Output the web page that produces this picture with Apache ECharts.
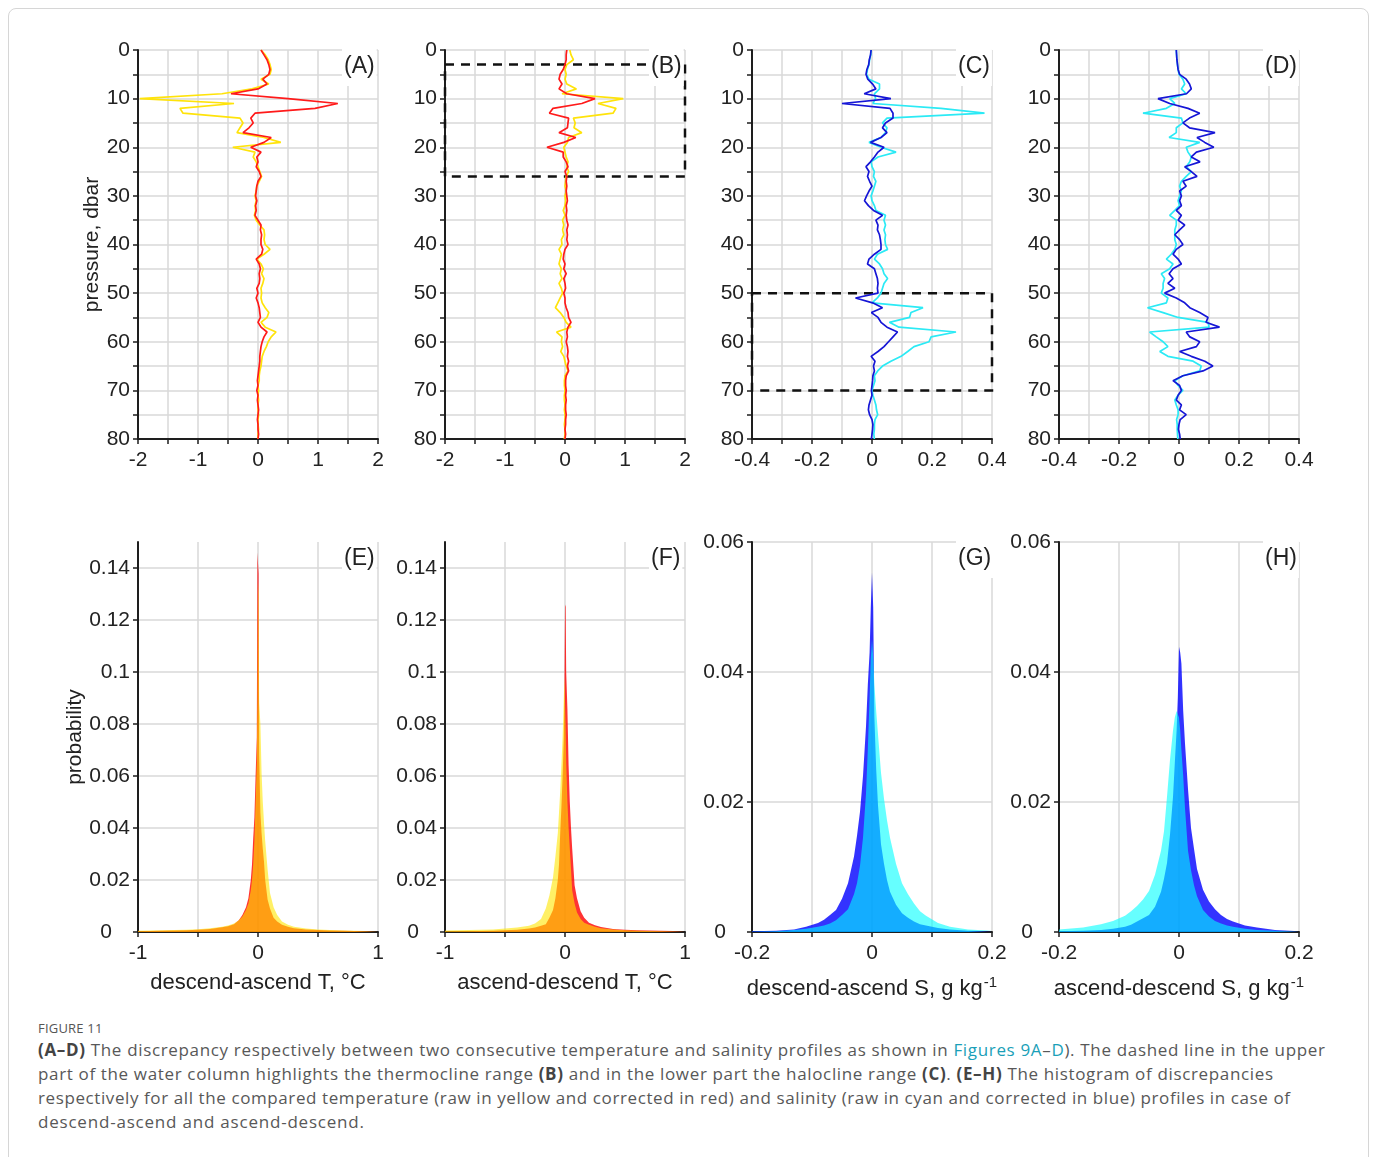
<!DOCTYPE html>
<html><head><meta charset="utf-8">
<script src="https://cdn.jsdelivr.net/npm/echarts@6/dist/echarts.min.js"></script>
<style>
html,body{margin:0;padding:0;background:#fff;width:1375px;height:1157px;overflow:hidden;}
#frame{position:absolute;left:8px;top:8px;width:1361px;height:1190px;border:1px solid #d6d6d6;border-radius:8px;box-sizing:border-box;}
#chart{position:absolute;left:0;top:0;width:1375px;height:1012px;}
#cap{position:absolute;left:38px;top:1018px;font-family:"Open Sans","Liberation Sans",sans-serif;color:#585858;}
#cap .fig{font-size:13px;line-height:20px;letter-spacing:0.2px;color:#555;}
#cap .row{height:24px;line-height:24px;}
#cap .ln{font-size:17px;white-space:nowrap;display:inline-block;}
#cap b{color:#444;font-weight:700;}
#cap .lk{color:#1a9fb8;}
</style></head>
<body>
<div id="frame"></div>
<div id="chart"></div>
<div id="cap">
<div class="fig">FIGURE 11</div>
<div class="row"><span class="ln" data-w="1287"><b>(A–D)</b> The discrepancy respectively between two consecutive temperature and salinity profiles as shown in <span class="lk">Figures 9A</span>–<span class="lk">D</span>). The dashed line in the upper</span></div>
<div class="row"><span class="ln" data-w="1235">part of the water column highlights the thermocline range <b>(B)</b> and in the lower part the halocline range <b>(C)</b>. <b>(E–H)</b> The histogram of discrepancies</span></div>
<div class="row"><span class="ln" data-w="1252">respectively for all the compared temperature (raw in yellow and corrected in red) and salinity (raw in cyan and corrected in blue) profiles in case of</span></div>
<div class="row"><span class="ln" data-w="326">descend-ascend and ascend-descend.</span></div>
</div>
<script>
// ---------- DATA ----------
const pressure = [0,1,2,3,4,5,6,7,8,9,10,11,12,13,14,15,16,17,18,19,20,21,22,23,24,25,26,27,28,29,30,31,32,33,34,35,36,37,38,39,40,41,42,43,44,45,46,47,48,49,50,51,52,53,54,55,56,57,58,59,60,61,62,63,64,65,66,67,68,69,70,71,72,73,74,75,76,77,78,79,80];

// (A) descend-ascend T : raw (yellow), corrected (red)
const tA_raw = [0.05,0.12,0.17,0.2,0.22,0.2,0.05,0.18,-0.1,-0.6,
 -1.97,-0.4,-1.3,-1.25,-0.3,-0.25,-0.3,-0.35,0.1,0.38,
 -0.42,-0.05,-0.08,-0.03,0.0,0.03,0.06,0.02,-0.02,-0.03,
 -0.05,-0.03,-0.05,-0.04,-0.06,-0.03,0.03,0.1,0.11,0.1,
 0.12,0.2,0.1,-0.02,0.05,0.09,0.06,0.1,0.08,0.05,
 0.06,0.05,0.07,0.12,0.18,0.15,0.05,0.12,0.3,0.22,
 0.17,0.14,0.1,0.07,0.06,0.05,0.03,0.02,0.02,0.0,
 0.01,0.0,0.01,0.0,0.0,0.01,0.0,0.0,0.01,0.0,0.0];
const tA_cor = [0.05,0.1,0.15,0.18,0.2,0.18,0.08,0.15,0.0,-0.45,
 0.5,1.33,0.95,-0.05,-0.12,-0.08,-0.15,-0.25,0.22,0.1,
 -0.12,0.05,-0.02,0.0,-0.03,0.02,0.05,0.0,-0.02,-0.03,
 -0.04,-0.02,-0.04,-0.03,-0.05,0.0,0.05,0.04,0.06,0.05,
 0.05,0.08,0.06,-0.03,0.02,0.04,0.02,0.03,0.02,-0.02,
 0.0,-0.03,0.0,0.02,0.03,0.04,0.0,0.05,0.15,0.1,
 0.07,0.05,0.04,0.03,0.03,0.02,0.01,0.0,-0.01,0.0,
 -0.02,0.0,-0.01,0.0,0.01,0.0,-0.01,0.0,0.0,0.01,0.0];

// (B) ascend-descend T
const tB_raw = [0.08,0.1,0.14,0.03,0.0,0.02,0.0,0.03,0.19,-0.05,
 0.97,0.55,0.85,0.8,0.14,0.17,0.15,0.28,0.06,0.04,
 -0.02,0.0,0.02,0.05,0.03,0.06,0.02,0.01,0.0,0.02,
 0.0,0.01,0.0,-0.03,0.0,-0.04,-0.02,-0.04,-0.02,-0.06,
 -0.05,-0.1,-0.06,-0.08,-0.1,-0.06,-0.08,-0.05,-0.1,-0.06,
 -0.04,-0.08,-0.12,-0.16,-0.08,-0.02,0.02,0.1,-0.14,-0.05,
 -0.06,-0.04,-0.07,-0.02,0.0,0.02,0.05,0.0,-0.01,-0.01,
 0.0,-0.01,-0.01,0.0,-0.01,0.0,0.0,-0.01,0.0,0.0,-0.01];
const tB_cor = [0.03,0.02,0.02,0.0,-0.03,-0.08,-0.1,-0.05,-0.1,0.03,
 0.5,0.28,-0.2,-0.26,0.06,0.05,0.04,-0.1,0.18,-0.02,
 -0.3,-0.03,-0.03,0.02,0.05,0.0,0.03,0.02,0.03,0.02,
 0.03,0.04,0.02,0.03,0.02,0.03,0.05,0.03,0.04,0.03,
 0.05,0.0,-0.02,-0.03,0.0,-0.02,0.02,-0.02,0.0,0.01,
 -0.02,0.0,0.0,0.02,0.05,0.06,0.1,0.05,0.03,0.04,
 0.02,0.04,0.05,0.04,0.06,0.04,0.06,0.02,0.01,0.01,
 0.02,0.01,0.02,0.01,0.01,0.02,0.01,0.01,0.0,0.01,0.0];

// (C) descend-ascend S : raw (cyan), corrected (blue)
const sC_raw = [-0.003,-0.004,-0.008,-0.01,-0.015,-0.018,-0.01,0.025,0.025,0.008,
 0.012,0.003,0.23,0.375,0.05,0.035,0.05,0.045,0.03,-0.01,
 0.03,0.08,0.02,-0.003,0.0,0.008,0.005,0.013,0.008,0.003,
 -0.003,0.0,0.008,0.013,0.045,0.04,0.045,0.04,0.045,0.043,
 0.045,0.052,0.018,0.008,0.025,0.035,0.04,0.052,0.04,0.035,
 0.03,0.018,0.0,0.17,0.13,0.125,0.058,0.09,0.28,0.197,
 0.19,0.14,0.119,0.097,0.063,0.035,0.019,0.008,0.01,0.005,
 0.0,0.003,0.008,0.013,0.015,0.019,0.01,0.008,0.008,0.006,0.008];
const sC_cor = [-0.003,-0.005,-0.009,-0.011,-0.017,-0.02,-0.014,0.002,0.013,-0.026,
 0.063,-0.1,0.06,0.07,0.07,0.045,0.035,0.05,0.03,-0.005,
 0.04,0.02,0.008,-0.005,-0.02,-0.01,-0.015,-0.008,0.0,-0.01,
 -0.018,-0.025,-0.012,0.005,0.035,0.013,0.02,0.018,0.025,0.028,
 0.03,0.03,0.008,-0.01,-0.015,0.008,0.013,0.018,0.02,0.018,
 0.02,-0.055,0.002,0.035,-0.002,0.02,0.03,0.05,0.085,0.07,
 0.055,0.04,0.02,-0.003,0.01,0.005,0.008,0.003,0.002,0.0,
 -0.002,0.0,-0.005,-0.01,-0.012,-0.008,0.0,0.003,0.002,0.0,-0.002];

// (D) ascend-descend S
const sD_raw = [-0.009,-0.008,-0.007,-0.005,-0.003,0.0,0.013,0.019,0.008,0.024,
 -0.031,-0.014,-0.042,-0.12,0.008,0.013,-0.009,-0.009,-0.033,0.069,
 0.024,0.03,0.041,0.036,0.024,0.041,0.024,0.008,0.002,0.008,
 0.002,-0.003,0.002,-0.014,-0.031,-0.009,-0.009,-0.014,-0.014,-0.014,
 -0.009,-0.014,-0.026,-0.042,-0.02,-0.031,-0.059,-0.048,-0.053,-0.053,
 -0.059,-0.037,-0.042,-0.105,-0.053,-0.003,0.097,0.1,-0.098,-0.076,
 -0.053,-0.037,-0.064,-0.037,0.047,0.074,0.069,0.013,-0.014,-0.003,
 0.013,-0.003,-0.014,-0.009,-0.003,-0.003,-0.008,-0.006,-0.006,-0.005,-0.004];
const sD_cor = [-0.009,-0.008,-0.007,-0.005,-0.003,0.002,0.024,0.035,0.041,0.025,
 -0.07,-0.031,0.03,0.069,0.035,0.013,0.035,0.12,0.06,0.086,
 0.116,0.058,0.041,0.07,0.019,0.041,0.06,0.013,0.024,0.002,
 0.008,0.002,0.008,-0.009,0.008,-0.003,0.019,0.002,-0.014,0.002,
 0.013,-0.009,-0.02,-0.003,0.008,-0.02,-0.033,-0.02,-0.037,-0.014,
 -0.048,-0.009,0.019,0.036,0.069,0.097,0.09,0.135,0.024,0.036,
 0.069,0.058,0.002,0.041,0.086,0.113,0.08,0.013,-0.02,0.002,
 0.008,-0.003,-0.009,0.008,0.002,0.024,0.004,0.0,-0.002,0.002,0.004];

// Histograms: temperature discrepancy positions, °C
const histT_x = [-1,-0.8,-0.6,-0.5,-0.4,-0.3,-0.25,-0.2,-0.16,-0.13,
 -0.1,-0.08,-0.06,-0.05,-0.04,-0.03,-0.02,-0.01,-0.005,
 0,
 0.005,0.01,0.02,0.03,0.04,0.05,0.06,0.08,0.1,0.13,
 0.16,0.2,0.25,0.3,0.4,0.5,0.6,0.8,1];
const histE_cor = [0.0003,0.0005,0.0007,0.0009,0.0012,0.0018,0.0022,0.003,0.0045,0.0065,
 0.0095,0.013,0.02,0.026,0.036,0.044,0.06,0.075,0.146,
 0.146,
 0.138,0.068,0.046,0.038,0.032,0.027,0.02,0.0125,0.009,0.0055,
 0.004,0.0028,0.002,0.0014,0.001,0.0008,0.0006,0.0004,0.0002];
const histE_raw = [0.0005,0.0007,0.0009,0.0011,0.0014,0.002,0.0025,0.0033,0.0045,0.006,
 0.0085,0.011,0.016,0.02,0.026,0.035,0.05,0.065,0.09,
 0.135,
 0.13,0.088,0.08,0.061,0.05,0.042,0.035,0.024,0.015,0.0095,
 0.0065,0.004,0.0028,0.002,0.0013,0.001,0.0008,0.0005,0.0003];
const histF_cor = [0.0002,0.0003,0.0005,0.0007,0.0009,0.0013,0.0017,0.0024,0.003,0.0055,
 0.0085,0.013,0.02,0.026,0.038,0.048,0.06,0.075,0.09,
 0.125,
 0.126,0.1,0.086,0.064,0.05,0.04,0.032,0.018,0.013,0.008,
 0.0055,0.0036,0.0026,0.0019,0.0012,0.0009,0.0007,0.0005,0.0003];
const histF_raw = [0.0006,0.0008,0.001,0.0013,0.0017,0.0024,0.0033,0.005,0.009,0.014,
 0.021,0.029,0.038,0.046,0.054,0.064,0.075,0.09,0.098,
 0.098,
 0.08,0.065,0.05,0.04,0.032,0.024,0.016,0.011,0.0075,0.005,
 0.0036,0.0028,0.002,0.0014,0.001,0.0007,0.0005,0.0003,0.0002];

// Histograms: salinity discrepancy positions, g/kg
const histS_x = [-0.2,-0.16,-0.13,-0.11,-0.09,-0.08,-0.07,-0.06,-0.05,-0.04,
 -0.03,-0.025,-0.02,-0.015,-0.01,-0.007,-0.004,-0.002,
 0,
 0.002,0.004,0.007,0.01,0.015,0.02,0.025,0.03,
 0.04,0.05,0.06,0.07,0.08,0.09,0.11,0.13,0.16,0.2];
const histG_cor = [0.0001,0.0002,0.0004,0.0008,0.0014,0.0019,0.0026,0.0034,0.0051,0.0075,
 0.0116,0.0148,0.0185,0.024,0.0316,0.038,0.043,0.05,
 0.0553,
 0.05,0.033,0.025,0.0195,0.0135,0.0105,0.008,0.0062,
 0.0042,0.0029,0.0022,0.0016,0.0012,0.001,0.0006,0.0004,0.0002,0.0001];
const histG_raw = [0.00005,0.0001,0.0003,0.0005,0.0008,0.001,0.0013,0.0018,0.0026,0.0035,
 0.0058,0.0075,0.0102,0.0145,0.0213,0.028,0.036,0.042,
 0.045,
 0.0424,0.038,0.034,0.0304,0.0245,0.0205,0.0172,0.0145,
 0.0105,0.0075,0.0058,0.0044,0.0032,0.0025,0.0014,0.0008,0.0004,0.0002];
const histH_cor = [0.0001,0.0002,0.0003,0.0005,0.0008,0.0011,0.0016,0.0021,0.0026,0.0039,
 0.0062,0.0082,0.0106,0.015,0.0208,0.026,0.031,0.036,
 0.0439,
 0.043,0.0413,0.034,0.029,0.022,0.016,0.0128,0.0097,
 0.0065,0.0047,0.0035,0.0026,0.002,0.0016,0.001,0.0007,0.0003,0.0001];
const histH_raw = [0.0004,0.0007,0.0012,0.0017,0.0025,0.0032,0.004,0.005,0.0063,0.0088,
 0.0125,0.0155,0.0208,0.0265,0.031,0.033,0.034,0.034,
 0.033,
 0.031,0.028,0.024,0.019,0.0125,0.0095,0.0072,0.0055,
 0.0034,0.0024,0.0017,0.0013,0.001,0.0008,0.0005,0.0003,0.0002,0.0001];

const panelLabels = ['(A)','(B)','(C)','(D)','(E)','(F)','(G)','(H)'];
const thermoRange = [3, 26];   // dbar, panel B
const haloRange = [50, 70];    // dbar, panel C

// ---------- LAYOUT / STYLE ----------
const lefts = [138, 445, 752, 1059];
const W = 240;
const topRow = {top: 50, height: 389};
const botRow = {top: 542, height: 390};
const FONT = '"Liberation Sans", Arial, sans-serif';
const INK = '#1e1e1e';
const GRIDC = '#d9d9d9';
const C_YEL = '#FFE30A', C_RED = '#FF1A1A', C_CYN = '#2BEAF5', C_BLU = '#1616D6';

const grids = [];
for (let i = 0; i < 8; i++) {
  const r = i < 4 ? topRow : botRow;
  grids.push({left: lefts[i % 4], top: r.top, width: W, height: r.height, containLabel: false, outerBoundsMode: 'none'});
}

const axisLine = {show: true, onZero: false, lineStyle: {color: INK, width: 2}};
const axisTick = {show: true, inside: false, length: 5, lineStyle: {color: INK, width: 1.5}};
const splitLine = {show: true, lineStyle: {color: GRIDC, width: 1.5}};
const lbl = {fontSize: 21, color: '#222', fontFamily: FONT};

function evenTenth(v) { return Math.round(v * 10) % 2 === 0; }
function fmtTenth(v) { return evenTenth(v) ? String(+v.toFixed(1)) : ''; }
function fmtInt(v) { return Math.abs(v - Math.round(v)) < 1e-9 ? String(Math.round(v)) : ''; }

const xAxes = [], yAxes = [];
const xSpecs = [
  {min: -2, max: 2, interval: 0.5, f: fmtInt},
  {min: -2, max: 2, interval: 0.5, f: fmtInt},
  {min: -0.4, max: 0.4, interval: 0.1, f: fmtTenth},
  {min: -0.4, max: 0.4, interval: 0.1, f: fmtTenth},
  {min: -1, max: 1, interval: 0.5, f: fmtInt, name: 'descend-ascend T, °C'},
  {min: -1, max: 1, interval: 0.5, f: fmtInt, name: 'ascend-descend T, °C'},
  {min: -0.2, max: 0.2, interval: 0.1, f: fmtTenth, name: 'descend-ascend S, g kg{sup|-1}'},
  {min: -0.2, max: 0.2, interval: 0.1, f: fmtTenth, name: 'ascend-descend S, g kg{sup|-1}'}
];
xSpecs.forEach((s, i) => {
  xAxes.push({
    type: 'value', gridIndex: i, position: 'bottom', min: s.min, max: s.max, interval: s.interval,
    axisLine, axisTick, splitLine,
    axisLabel: Object.assign({margin: 11, formatter: s.f, showMinLabel: true, showMaxLabel: true}, lbl),
    name: s.name || '', nameLocation: 'middle', nameGap: i >= 6 ? 43 : 40,
    nameTextStyle: {fontSize: 22, color: '#222', fontFamily: FONT,
      rich: {sup: {fontSize: 15, color: '#222', fontFamily: FONT, verticalAlign: 'top', padding: [0, 0, 12, 1]}}}
  });
});
for (let i = 0; i < 8; i++) {
  if (i < 4) {
    yAxes.push({
      type: 'value', gridIndex: i, inverse: true, min: 0, max: 80, interval: 10,
      axisLine, axisTick, splitLine,
      minorTick: {show: true, splitNumber: 2, length: 5, lineStyle: {color: INK, width: 1.5}},
      minorSplitLine: {show: true, lineStyle: {color: GRIDC, width: 1.5}},
      axisLabel: Object.assign({margin: 8}, lbl),
      name: i === 0 ? 'pressure, dbar' : '', nameLocation: 'middle', nameGap: 35,
      nameTextStyle: {fontSize: 21, color: '#222', fontFamily: FONT}
    });
  } else {
    const isT = i < 6;
    yAxes.push({
      type: 'value', gridIndex: i, min: 0, max: isT ? 0.15 : 0.06, interval: 0.02,
      axisLine, axisTick,
      splitLine: {show: true, showMaxLine: !isT, showMinLine: false, lineStyle: {color: GRIDC, width: 1.5}},
      axisLabel: Object.assign({margin: 8, showMaxLabel: !isT,
        formatter: v => (v === 0 ? '{z|0}' : (isT && v > 0.145 ? '' : String(+v.toFixed(2)))),
        rich: {z: {fontSize: 21, color: '#222', fontFamily: FONT, padding: [0, 18, 0, 0]}}}, lbl),
      name: i === 4 ? 'probability' : '', nameLocation: 'middle', nameGap: 52,
      nameTextStyle: {fontSize: 21, color: '#222', fontFamily: FONT}
    });
  }
}

function profile(vals) { return pressure.map((p, k) => [vals[k], p]); }
function hist(xs, ys) { return xs.map((x, k) => [x, ys[k]]); }

function lineSeries(idx, vals, color, extra) {
  return Object.assign({
    type: 'line', xAxisIndex: idx, yAxisIndex: idx, data: profile(vals),
    showSymbol: false, symbol: 'none', silent: true, animation: false,
    lineStyle: {color, width: 1.7}, z: 3
  }, extra || {});
}
function histSeries(idx, xs, ys, fill, z) {
  return {
    type: 'line', xAxisIndex: idx, yAxisIndex: idx, data: hist(xs, ys),
    showSymbol: false, symbol: 'none', silent: true, animation: false,
    lineStyle: {width: 0, opacity: 0}, areaStyle: {color: fill, opacity: 1}, z
  };
}
function dashedBox(xr, pr) {
  return {
    silent: true,
    itemStyle: {color: 'rgba(0,0,0,0)', borderColor: '#111', borderWidth: 2.5, borderType: [9, 7]},
    label: {show: false},
    data: [[{coord: [xr[0], pr[0]]}, {coord: [xr[1], pr[1]]}]]
  };
}

const series = [
  lineSeries(0, tA_raw, C_YEL),
  lineSeries(0, tA_cor, C_RED),
  lineSeries(1, tB_raw, C_YEL, {markArea: dashedBox([-2, 2], thermoRange)}),
  lineSeries(1, tB_cor, C_RED),
  lineSeries(2, sC_raw, C_CYN, {markArea: dashedBox([-0.4, 0.4], haloRange)}),
  lineSeries(2, sC_cor, C_BLU),
  lineSeries(3, sD_raw, C_CYN),
  lineSeries(3, sD_cor, C_BLU),
  histSeries(4, histT_x, histE_cor, 'rgba(255,0,0,0.8)', 2),
  histSeries(4, histT_x, histE_raw, 'rgba(255,230,0,0.6)', 3),
  histSeries(5, histT_x, histF_cor, 'rgba(255,0,0,0.8)', 2),
  histSeries(5, histT_x, histF_raw, 'rgba(255,230,0,0.6)', 3),
  histSeries(6, histS_x, histG_cor, 'rgba(0,0,255,0.8)', 2),
  histSeries(6, histS_x, histG_raw, 'rgba(0,255,255,0.6)', 3),
  histSeries(7, histS_x, histH_cor, 'rgba(0,0,255,0.8)', 2),
  histSeries(7, histS_x, histH_raw, 'rgba(0,255,255,0.6)', 3)
];

const titles = panelLabels.map((t, i) => ({
  text: t, left: lefts[i % 4] + 204, top: (i < 4 ? topRow.top : botRow.top) - 2,
  backgroundColor: '#ffffff', padding: [7, 2, 8, 2], z: 10,
  textStyle: {fontSize: 23, fontWeight: 'normal', color: '#222', fontFamily: FONT}
}));

const chart = echarts.init(document.getElementById('chart'), null, {renderer: 'canvas'});
chart.setOption({
  animation: false,
  backgroundColor: 'transparent',
  textStyle: {fontFamily: FONT},
  title: titles,
  grid: grids,
  xAxis: xAxes,
  yAxis: yAxes,
  series
});

// fit caption lines to the widths they take in the figure
document.querySelectorAll('#cap .ln').forEach(el => {
  const target = +el.dataset.w;
  el.style.letterSpacing = '0px';
  const w = el.getBoundingClientRect().width;
  const n = el.textContent.length - 1;
  if (n > 0) el.style.letterSpacing = ((target - w) / n).toFixed(3) + 'px';
});
</script>
</body></html>
